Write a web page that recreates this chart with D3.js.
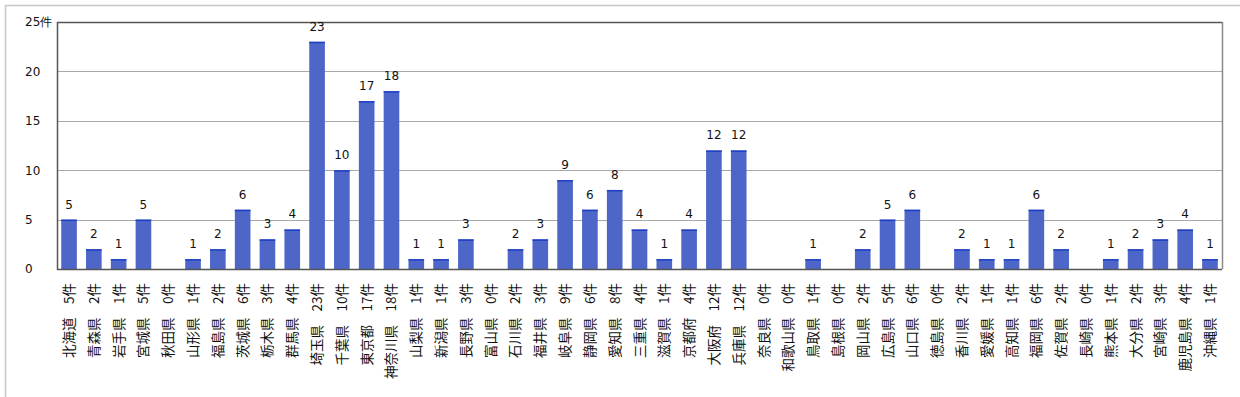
<!DOCTYPE html>
<html><head><meta charset="utf-8">
<script src="https://cdn.jsdelivr.net/npm/d3@7"></script>
<style>
html,body{margin:0;padding:0;background:#fff;}
svg{display:block;}
</style></head>
<body>
<svg id="chart" width="1240" height="397"></svg>
<script>
const prefectures = ["北海道","青森県","岩手県","宮城県","秋田県","山形県","福島県","茨城県","栃木県","群馬県","埼玉県","千葉県","東京都","神奈川県","山梨県","新潟県","長野県","富山県","石川県","福井県","岐阜県","静岡県","愛知県","三重県","滋賀県","京都府","大阪府","兵庫県","奈良県","和歌山県","鳥取県","島根県","岡山県","広島県","山口県","徳島県","香川県","愛媛県","高知県","福岡県","佐賀県","長崎県","熊本県","大分県","宮崎県","鹿児島県","沖縄県"];
const counts = [5,2,1,5,0,1,2,6,3,4,23,10,17,18,1,1,3,0,2,3,9,6,8,4,1,4,12,12,0,0,1,0,2,5,6,0,2,1,1,6,2,0,1,2,3,4,1];
const yTicks = [0,5,10,15,20,25];
const yTickLabels = ["0","5","10","15","20","25件"];

const svg = d3.select("#chart");
const m = {left:57, right:1222, top:22, bottom:269};

// outer frame
svg.append("rect").attr("x",5.5).attr("y",5.5).attr("width",1240).attr("height",400)
  .attr("fill","none").attr("stroke","#c8c8c8").attr("stroke-width",1.5);

const x = d3.scaleBand().domain(prefectures).range([m.left, m.right]).paddingInner(0.37).paddingOuter(0.17);
const y = d3.scaleLinear().domain([0,25]).range([m.bottom, m.top]);

// gridlines
svg.append("g").selectAll("line").data(yTicks.filter(t=>t>0)).join("line")
  .attr("x1",m.left).attr("x2",m.right)
  .attr("y1",d=>Math.round(y(d))+0.5).attr("y2",d=>Math.round(y(d))+0.5)
  .attr("stroke",d=>d===25?"#555":"#a8a8a8").attr("stroke-width",d=>d===25?1.3:1.2);

// right border
svg.append("line").attr("x1",m.right+0.5).attr("x2",m.right+0.5).attr("y1",m.top).attr("y2",m.bottom)
  .attr("stroke","#888").attr("stroke-width",1.5);

// y tick labels
svg.append("g").selectAll("text").data(yTicks).join("text")
  .attr("x",25).attr("y",d=>y(d)).attr("dy","0.36em")
  .attr("font-family","DejaVu Sans, Verdana, sans-serif").attr("font-size",12).attr("fill","#111")
  .text((d,i)=>yTickLabels[i]);

// bars
const data = prefectures.map((p,i)=>({p, v:counts[i]}));
const bars = svg.append("g");
bars.selectAll("rect").data(data.filter(d=>d.v>0)).join("rect")
  .attr("x",d=>x(d.p)).attr("width",x.bandwidth())
  .attr("y",d=>y(d.v)).attr("height",d=>y(0)-y(d.v))
  .attr("fill","#4d66c8");
bars.selectAll("line").data(data.filter(d=>d.v>0)).join("line")
  .attr("x1",d=>x(d.p)).attr("x2",d=>x(d.p)+x.bandwidth())
  .attr("y1",d=>y(d.v)+0.75).attr("y2",d=>y(d.v)+0.75)
  .attr("stroke","#1f3fc4").attr("stroke-width",1.5);

// axes lines
svg.append("line").attr("x1",m.left+0.5).attr("x2",m.left+0.5).attr("y1",m.top).attr("y2",m.bottom+1)
  .attr("stroke","#555").attr("stroke-width",1.5);
svg.append("line").attr("x1",m.left).attr("x2",m.right).attr("y1",m.bottom+0.5).attr("y2",m.bottom+0.5)
  .attr("stroke","#555").attr("stroke-width",1.5);

// value labels
svg.append("g").selectAll("text").data(data.filter(d=>d.v>0)).join("text")
  .attr("x",d=>x(d.p)+x.bandwidth()/2).attr("y",d=>y(d.v)-11)
  .attr("text-anchor","middle")
  .attr("font-family","DejaVu Sans, Verdana, sans-serif").attr("font-size",12).attr("fill","#111")
  .text(d=>d.v);

// x category labels (rotated)
svg.append("g").selectAll("text").data(data).join("text")
  .attr("transform",d=>`translate(${x(d.p)+x.bandwidth()/2+5},283) rotate(-90)`)
  .attr("text-anchor","end")
  .attr("font-family","'Noto Sans CJK JP', sans-serif").attr("font-size",13.5).attr("fill","#111")
  .text(d=>d.p+"\u3000"+d.v+"件");
</script>
</body></html>
